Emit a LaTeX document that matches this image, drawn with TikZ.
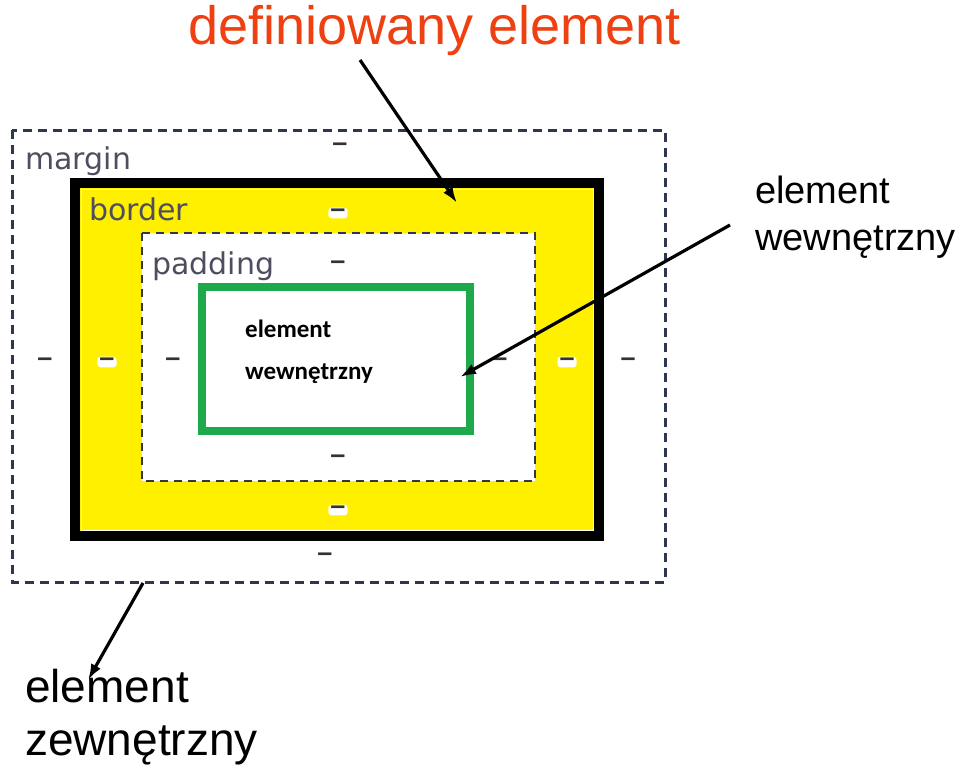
\documentclass[tikz,border=0pt]{standalone}
\usepackage{fontspec}
\setmainfont{Liberation Sans}
\newfontfamily\dejavu{DejaVu Sans}
\newfontfamily\carlito{Carlito}
\usetikzlibrary{arrows.meta}
\definecolor{tytul}{RGB}{238,64,16}
\definecolor{ramka}{RGB}{45,55,80}
\definecolor{zolty}{RGB}{255,240,0}
\definecolor{zielony}{RGB}{30,170,75}
\definecolor{szary}{RGB}{78,78,95}

\begin{document}
\begin{tikzpicture}[x=1pt,y=-1pt,
    kreska/.style={inner sep=0pt,font=\bfseries\fontsize{27}{27}\selectfont,text=black!80},
    etykieta/.style={anchor=base west,inner sep=0pt,text=szary,font=\dejavu\fontsize{30}{30}\selectfont},
    opis/.style={anchor=base west,inner sep=0pt},
    strzalka/.style={line width=3.2pt,-{Latex[length=16pt,width=11pt]}}]
  \useasboundingbox (0,0) rectangle (960,768);
  % ramki: margin, border, padding, element
  \draw[ramka,line width=3pt,dash pattern=on 9pt off 6pt] (12,130) rectangle (665,582);
  \draw[line width=10pt,fill=zolty] (75,183) rectangle (599,536);
  \draw[white,line width=1pt] (81,189) rectangle (593,530);
  \draw[ramka,line width=2.5pt,dash pattern=on 8pt off 6pt,fill=white] (142,233) rectangle (535,481);
  \draw[zielony,line width=8pt] (202,287) rectangle (470,431);
  % nazwy warstw
  \node[etykieta] (margin) at (25,169) {margin};
  \node[etykieta] (border) at (89,220) {border};
  \node[etykieta] (padding) at (152,274) {padding};
  \node[opis,font=\carlito\bfseries\fontsize{25}{25}\selectfont] (wew1) at (245,337) {element};
  \node[opis,font=\carlito\bfseries\fontsize{25}{25}\selectfont] (wew2) at (245,379) {wewnętrzny};
  % kreski
  \foreach \n/\x/\y in {mt/340/147,mb/325/557,ml/45/362,mr/628/362,
                        pt/338/265,pb/338/459,pl/173/362,pr/500/362}
    \node[kreska] (k\n) at (\x,\y) {–};
  \foreach \n/\x/\y in {bt/338/213,bb/338/510,bl/107/362,br/567/362}
    \node[kreska,fill=white,inner xsep=2pt,inner ysep=1pt,rounded corners=3pt] (k\n) at (\x,\y) {–};
  % podpisy
  \node[opis,text=tytul,font=\fontsize{54}{54}\selectfont] (tytul) at (188,45) {definiowany element};
  \node[opis,font=\fontsize{38}{38}\selectfont] (ew1) at (755,203) {element};
  \node[opis,font=\fontsize{38}{38}\selectfont] (ew2) at (755,250) {wewnętrzny};
  \node[opis,font=\fontsize{46}{46}\selectfont] (ez1) at (25,702) {element};
  \node[opis,font=\fontsize{46}{46}\selectfont] (ez2) at (25,755) {zewnętrzny};
  % strzalki
  \coordinate (s1) at (360,60);
  \coordinate (c1) at (457,203);
  \coordinate (s2) at (730,225);
  \coordinate (c2) at (460,377);
  \coordinate (s3) at (143,583);
  \coordinate (c3) at (88,680);
  \draw[strzalka] (s1) -- (c1);
  \draw[strzalka] (s2) -- (c2);
  \draw[strzalka] (s3) -- (c3);
\end{tikzpicture}
\end{document}
